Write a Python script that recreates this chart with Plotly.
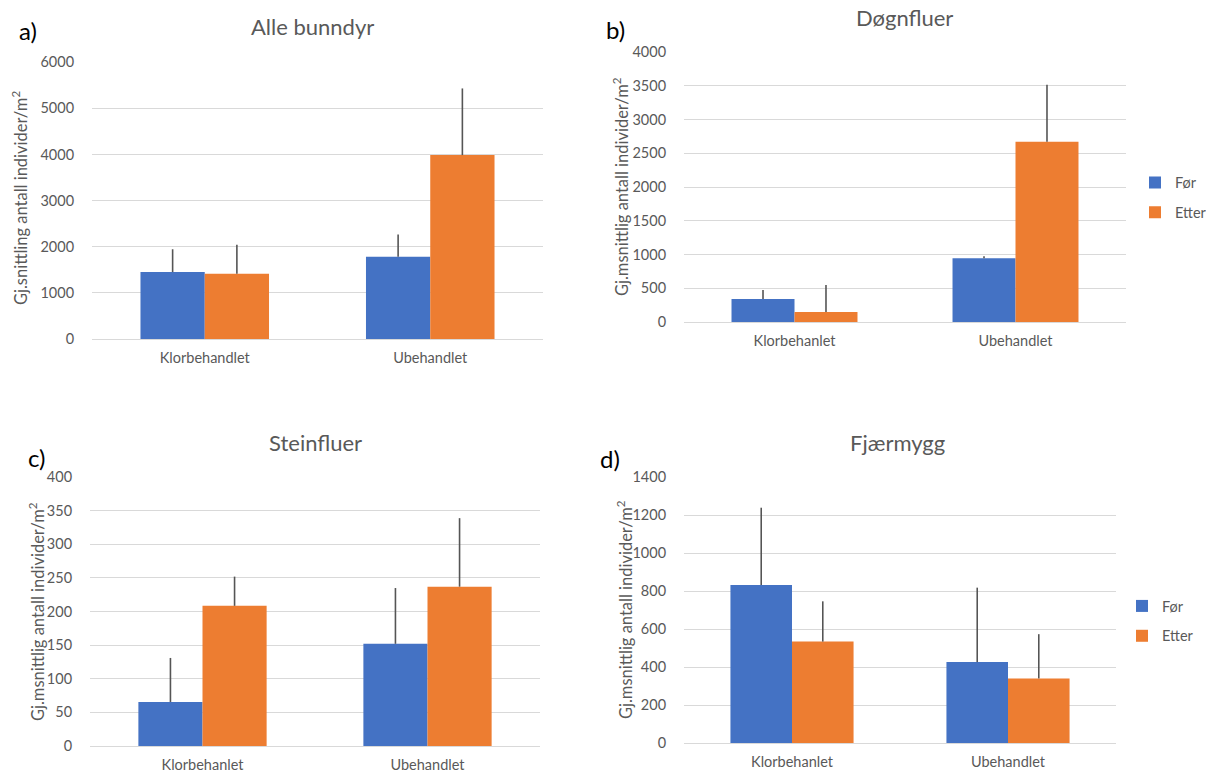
import plotly.graph_objects as go

W, H = 1206, 772

categories_a = ["Klorbehandlet", "Ubehandlet"]
categories = ["Klorbehanlet", "Ubehandlet"]
series = ["Før", "Etter"]

# a) Alle bunndyr
a_for = [1450, 1785]
a_etter = [1415, 3985]
a_for_err = [495, 478]
a_etter_err = [625, 1445]

# b) Døgnfluer
b_for = [340, 946]
b_etter = [148, 2670]
b_for_err = [133, 29]
b_etter_err = [399, 847]

# c) Steinfluer
c_for = [65.5, 152]
c_etter = [208.5, 237]
c_for_err = [65.5, 83]
c_etter_err = [43.5, 102]

# d) Fjærmygg
d_for = [832, 426]
d_etter = [534, 340]
d_for_err = [407, 392]
d_etter_err = [212, 233]

titles = ["Alle bunndyr", "Døgnfluer", "Steinfluer", "Fjærmygg"]
panel_labels = ["a)", "b)", "c)", "d)"]
ytitles = ["Gj.snittling antall individer/m<sup>2</sup>",
           "Gj.msnittlig antall individer/m<sup>2</sup>",
           "Gj.msnittlig antall individer/m<sup>2</sup>",
           "Gj.msnittlig antall individer/m<sup>2</sup>"]
y_ranges = [(6000, 1000), (4000, 500), (400, 50), (1400, 200)]

BLUE = "#4472C4"
ORANGE = "#ED7D31"
GRAY = "#595959"
GRID = "#D9D9D9"
ERR = "#555555"
FONT = "Lato"


def px(x):
    return x / W


def py(y):
    return 1 - y / H


# pixel boxes (left, right, top, bottom)
boxes = [(92, 543, 62, 339), (684, 1126, 52, 322), (90, 540, 477, 746), (684, 1116, 477, 743)]

fig = go.Figure()

panels = [
    (categories_a, a_for, a_etter, a_for_err, a_etter_err, None),
    (categories, b_for, b_etter, b_for_err, b_etter_err, "legend"),
    (categories, c_for, c_etter, c_for_err, c_etter_err, None),
    (categories, d_for, d_etter, d_for_err, d_etter_err, "legend2"),
]

for i, (cats, fv, ev, fe, ee, leg) in enumerate(panels):
    ax = "" if i == 0 else str(i + 1)
    for name, vals, errs, col, grp in [(series[0], fv, fe, BLUE, "g1"), (series[1], ev, ee, ORANGE, "g2")]:
        fig.add_trace(go.Bar(
            x=cats, y=vals, name=name, marker=dict(color=col, line=dict(width=0)),
            error_y=dict(type="data", array=errs, arrayminus=[0] * len(errs), symmetric=False,
                         color=ERR, thickness=1.6, width=0),
            xaxis="x" + ax, yaxis="y" + ax,
            showlegend=leg is not None, legend=leg if leg else "legend",
            legendgroup=grp + str(i),
        ))

layout = dict(
    width=W, height=H, margin=dict(l=0, r=0, t=0, b=0, autoexpand=False),
    paper_bgcolor="white", plot_bgcolor="white",
    barmode="group", bargap=0.43, bargroupgap=0,
    font=dict(family=FONT, color=GRAY, size=14),
    annotations=[],
)

for i, (l, r, t, b) in enumerate(boxes):
    ax = "" if i == 0 else str(i + 1)
    ymax, dt = y_ranges[i]
    layout["xaxis" + ax] = dict(
        domain=[px(l), px(r)], anchor="y" + ax, showgrid=False, zeroline=False,
        showline=False, ticks="outside", ticklen=6, tickcolor="rgba(0,0,0,0)",
        tickfont=dict(size=14.5, color=GRAY, family=FONT), automargin=False, fixedrange=True,
    )
    layout["yaxis" + ax] = dict(
        domain=[py(b), py(t)], anchor="x" + ax, range=[0, ymax * 1.0005], dtick=dt,
        showgrid=True, gridcolor=GRID, gridwidth=1, zeroline=True, zerolinecolor=GRID,
        zerolinewidth=1, showline=False, ticks="outside", ticklen=14, tickcolor="rgba(0,0,0,0)",
        tickfont=dict(size=14.5, color=GRAY, family=FONT), automargin=False, fixedrange=True,
    )

# titles, panel labels, y titles (pixels)
title_pos = [(312, 26), (904, 18), (315, 442), (897, 442)]
label_pos = [(28, 30), (615, 29), (36, 457), (610, 458)]
ytitle_pos = [(20, 198), (621, 187), (37, 612), (625, 610)]
for i in range(4):
    tx, ty = title_pos[i]
    layout["annotations"].append(dict(
        text=titles[i], x=px(tx), y=py(ty), xref="paper", yref="paper",
        showarrow=False, font=dict(size=22, color=GRAY, family=FONT),
        xanchor="center", yanchor="middle"))
    lx, ly = label_pos[i]
    layout["annotations"].append(dict(
        text=panel_labels[i], x=px(lx), y=py(ly), xref="paper", yref="paper",
        showarrow=False, font=dict(size=24, color="black", family=FONT),
        xanchor="center", yanchor="middle"))
    yx, yy = ytitle_pos[i]
    layout["annotations"].append(dict(
        text=ytitles[i], x=px(yx), y=py(yy), xref="paper", yref="paper",
        showarrow=False, textangle=-90, font=dict(size=16.5, color=GRAY, family=FONT),
        xanchor="center", yanchor="middle"))

layout["legend"] = dict(x=px(1135), y=py(197.5), xanchor="left", yanchor="middle",
                        font=dict(size=14.5, color=GRAY, family=FONT),
                        traceorder="grouped", tracegroupgap=8, bgcolor="rgba(0,0,0,0)",
                        itemwidth=30)
layout["legend2"] = dict(x=px(1122), y=py(621), xanchor="left", yanchor="middle",
                         font=dict(size=14.5, color=GRAY, family=FONT),
                         traceorder="grouped", tracegroupgap=8, bgcolor="rgba(0,0,0,0)",
                         itemwidth=30)

fig.update_layout(**layout)
fig.write_html("out.html", config={"displayModeBar": False},
               post_script="document.body.style.margin='0px';document.body.style.overflow='hidden';")
